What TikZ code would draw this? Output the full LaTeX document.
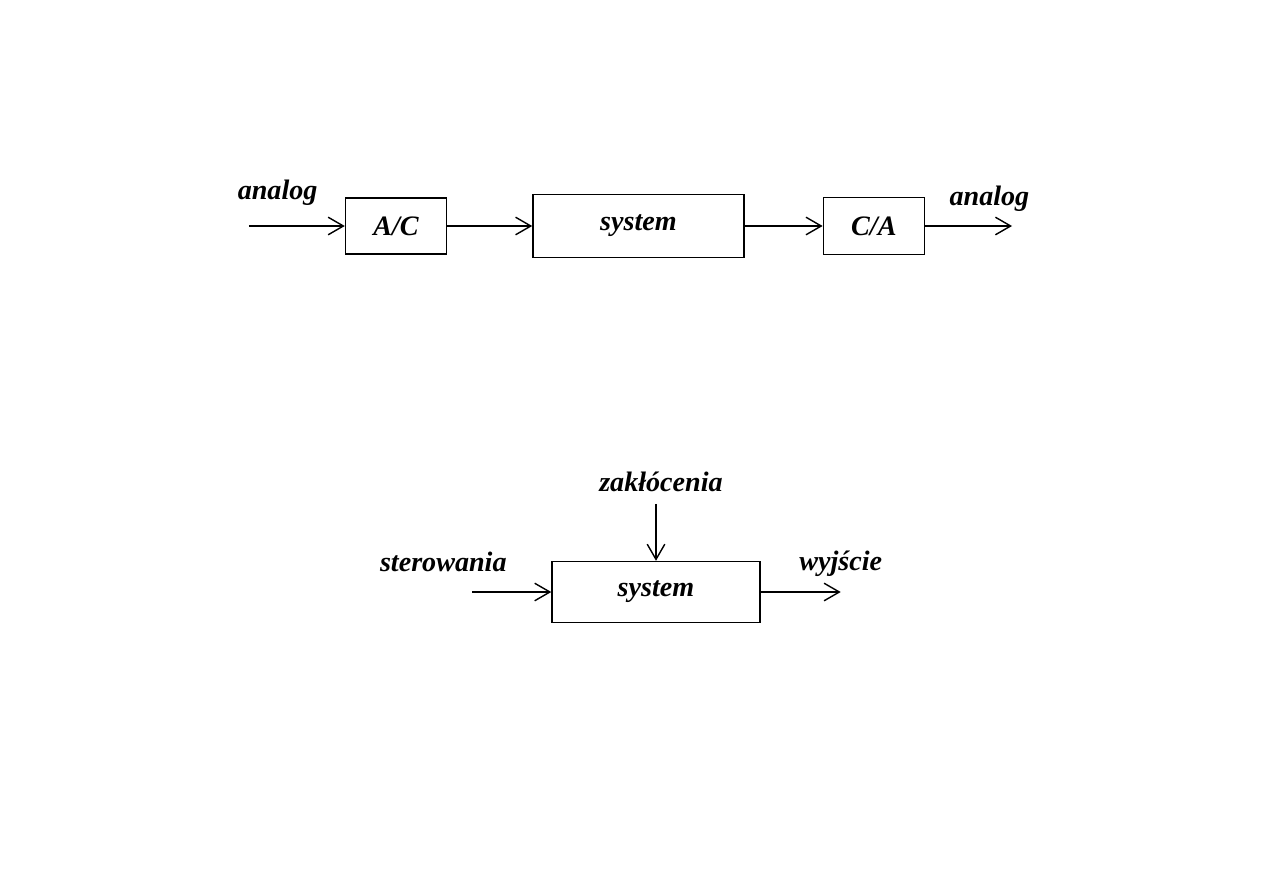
\documentclass[tikz,border=0pt]{standalone}
\usepackage{fontspec}
\setmainfont{Liberation Serif}
\usetikzlibrary{arrows.meta, positioning}

\begin{document}
\begin{tikzpicture}[
    x=0.03cm, y=-0.03cm,
    blk/.style={draw, line width=1.2pt, inner sep=0pt, font=\fontsize{24}{28}\selectfont\bfseries\itshape},
    lbl/.style={inner sep=2pt, font=\fontsize{24}{28}\selectfont\bfseries\itshape},
    arr/.style={-{Straight Barb[length=13pt, width=15pt]}, line width=1.2pt},
]
\useasboundingbox (0,0) rectangle (1263,893);

% upper chain
\node[blk, minimum width=3.03cm, minimum height=1.68cm] (ac) at (396,226) {A/C};
\node[blk, minimum width=6.33cm, minimum height=1.89cm, right=2.55cm of ac] (sys) {system};
\node[blk, minimum width=3.03cm, minimum height=1.71cm, right=2.34cm of sys] (ca) {C/A};
\coordinate[left=2.88cm of ac] (ain);
\coordinate[right=2.61cm of ca] (aout);

\draw[arr] (ain) -- node[lbl, above=15pt, pos=0.3] (ainlbl) {analog} (ac);
\draw[arr] (ac) -- (sys);
\draw[arr] (sys) -- (ca);
\draw[arr] (ca) -- node[lbl, above=10pt, pos=0.74] (aoutlbl) {analog} (aout);

% lower system
\node[blk, minimum width=6.24cm, minimum height=1.83cm] (plant) at (656,592) {system};
\coordinate[left=2.37cm of plant] (uin);
\coordinate[right=2.4cm of plant] (yout);
\coordinate[above=1.71cm of plant] (zin);

\draw[arr] (uin) -- (plant);
\draw[arr] (plant) -- (yout);
\draw[arr] (zin) -- (plant);

\node[lbl, above=15pt of uin, xshift=-0.87cm] (ulbl) {sterowania};
\node[lbl, above=11pt of yout] (ylbl) {wyjście};
\node[lbl, above=8pt of zin, xshift=0.15cm] (zlbl) {zakłócenia};

\end{tikzpicture}
\end{document}
